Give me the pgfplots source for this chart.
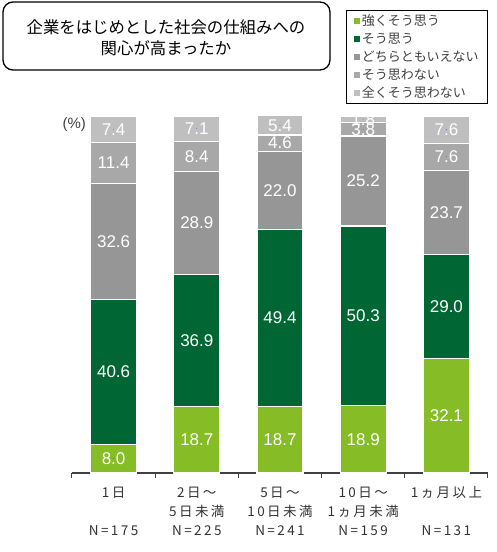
\documentclass[border=0pt]{standalone}
\usepackage{pgfplots}
\usepackage{pgfplotstable}
\pgfplotsset{compat=1.18}
\usepackage{fontspec}
\setmainfont{Liberation Sans}
\newfontfamily\jp{Noto Sans CJK JP}
\newfontfamily\jpls{Noto Sans CJK JP}[LetterSpace=18]
\definecolor{lg}{HTML}{86BC25}
\definecolor{dg}{HTML}{006633}
\definecolor{g1}{HTML}{969696}
\definecolor{g2}{HTML}{A8A8A8}
\definecolor{g3}{HTML}{BFBFBF}
\definecolor{txt}{HTML}{404040}
\pgfplotstableread{
x a b c d e
0 8.0 40.6 32.6 11.4 7.4
1 18.7 36.9 28.9 8.4 7.1
2 18.7 49.4 22.0 4.6 5.4
3 18.9 50.3 25.2 3.8 1.8
4 32.1 29.0 23.7 7.6 7.6
}\data
\pgfplotsset{frame/.style={at={(72pt,79pt)}, anchor=south west, scale only axis,
  width=416pt, height=357pt, clip=false,
  ymin=0, ymax=100, xmin=-0.5, xmax=4.5}}
\begin{document}
\begin{tikzpicture}
\useasboundingbox (0pt,0pt) rectangle (497pt,552pt);
\draw[rounded corners=10pt, line width=1.3pt] (3pt,482pt) rectangle (330pt,550pt);
\node[align=center, font=\jp\fontsize{16.4}{21}\selectfont] at (166pt,514pt) {企業をはじめとした社会の仕組みへの\\関心が高まったか};
\begin{axis}[frame,
  ybar stacked, bar width=46pt,
  axis y line=none, axis x line*=bottom,
  x axis line style={txt, line width=1.2pt},
  xtick={0,...,4},
  xticklabels={{1日\\\mbox{}\\N=175},{2日～\\5日未満\\N=225},{5日～\\10日未満\\N=241},{10日～\\1ヵ月未満\\N=159},{1ヵ月以上\\\mbox{}\\N=131}},
  major x tick style={draw=none},
  minor xtick={-0.5,0.5,...,4.5},
  minor tick length=5pt, tick align=outside, xtick pos=bottom,
  minor x tick style={txt, line width=1pt},
  xticklabel style={align=center, font=\jpls\fontsize{13.5}{19}\selectfont, text=black!80, yshift=-6pt},
  legend style={at={(rel axis cs:1,1.297)}, anchor=north east, draw=black, line width=0.8pt,
     font=\jp\fontsize{13}{14}\selectfont, text=txt, row sep=2pt, inner xsep=7pt, inner ysep=2pt},
  legend cell align=left,
  legend image code/.code={\path[#1, draw=none] (0pt,-3pt) rectangle (6pt,3pt);},
  every axis plot/.append style={draw=white, line width=1.2pt},
]
\addplot[fill=lg] table[x=x,y=a]{\data};
\addplot[fill=dg] table[x=x,y=b]{\data};
\addplot[fill=g1] table[x=x,y=c]{\data};
\addplot[fill=g2] table[x=x,y=d]{\data};
\addplot[fill=g3] table[x=x,y=e]{\data};
\legend{強くそう思う,そう思う,どちらともいえない,そう思わない,全くそう思わない}
\node[anchor=east, font=\fontsize{15}{15}\selectfont, text=txt] at (rel axis cs:0.042,0.975) {(\%)};
\end{axis}
\begin{axis}[frame, hide axis,
  /pgf/number format/fixed, /pgf/number format/fixed zerofill,
  /pgf/number format/precision=1, /pgf/number format/assume math mode=true,
  nodes near coords, point meta=explicit,
  every node near coord/.style={font=\fontsize{17}{17}\selectfont, text=white, anchor=center},
  every axis plot/.append style={only marks, mark=*, mark size=0.01pt, mark options={draw=none, fill=none}},
]
\addplot table[x=x, y expr=\thisrow{a}/2, meta=a]{\data};
\addplot table[x=x, y expr=\thisrow{a}+\thisrow{b}/2, meta=b]{\data};
\addplot table[x=x, y expr=\thisrow{a}+\thisrow{b}+\thisrow{c}/2, meta=c]{\data};
\addplot table[x=x, y expr=\thisrow{a}+\thisrow{b}+\thisrow{c}+\thisrow{d}/2, meta=d]{\data};
\addplot table[x=x, y expr=\thisrow{a}+\thisrow{b}+\thisrow{c}+\thisrow{d}+\thisrow{e}/2, meta=e]{\data};
\end{axis}
\end{tikzpicture}
\end{document}
